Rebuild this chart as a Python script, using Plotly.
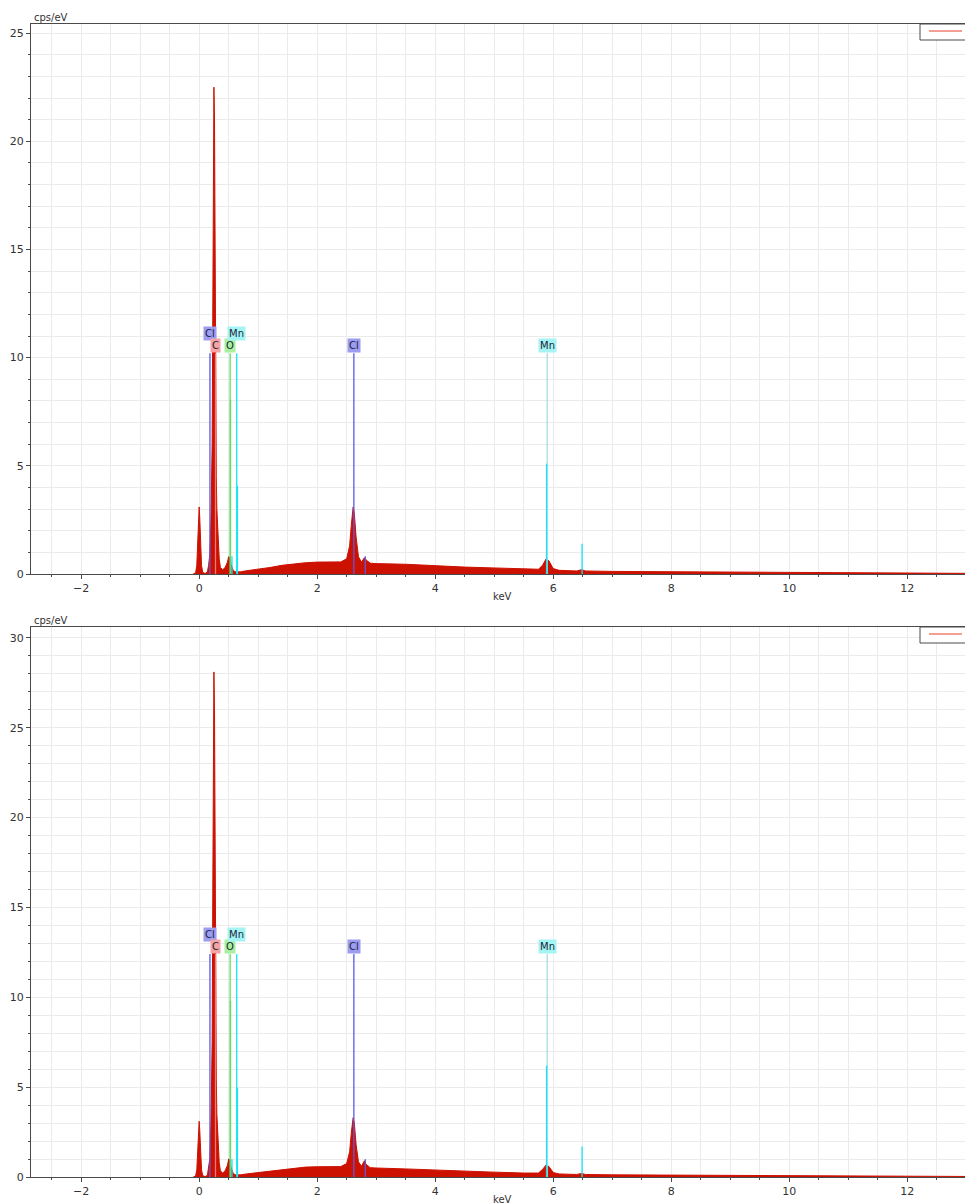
import plotly.graph_objects as go
from plotly.subplots import make_subplots

# ---- spectrum 1 (energy in keV, intensity in cps/eV) ----
energy_1 = [-0.10, -0.06, -0.04, -0.02, 0.00, 0.01, 0.02, 0.04, 0.06, 0.10,
            0.14, 0.16, 0.18, 0.20, 0.22, 0.23, 0.24, 0.25, 0.26, 0.27, 0.28, 0.29,
            0.30, 0.32, 0.34, 0.36, 0.40, 0.44, 0.48, 0.50, 0.52, 0.54, 0.58, 0.62,
            0.70, 0.80, 1.00, 1.20, 1.40, 1.60, 1.80, 2.00, 2.20, 2.40, 2.50, 2.55,
            2.58, 2.61, 2.63, 2.66, 2.70, 2.75, 2.80, 2.83, 2.90, 3.00, 3.50, 4.00,
            4.50, 5.00, 5.50, 5.75, 5.82, 5.88, 5.93, 6.00, 6.10, 6.40, 6.48, 6.55,
            7.00, 8.00, 9.00, 10.00, 11.00, 12.00, 13.00]
counts_1 = [0.0, 0.05, 0.4, 1.5, 3.1, 2.6, 1.6, 0.4, 0.08, 0.02,
            0.1, 0.4, 0.9, 2.5, 6.0, 12.0, 19.0, 22.5, 21.0, 14.0, 8.5, 4.5,
            3.0, 1.6, 0.7, 0.3, 0.2, 0.3, 0.55, 0.8, 0.75, 0.45, 0.15, 0.1,
            0.1, 0.15, 0.22, 0.3, 0.4, 0.47, 0.52, 0.55, 0.55, 0.56, 0.7, 1.3,
            2.3, 3.1, 2.8, 1.7, 0.8, 0.55, 0.75, 0.65, 0.5, 0.48, 0.45, 0.38,
            0.32, 0.28, 0.22, 0.22, 0.4, 0.7, 0.6, 0.25, 0.17, 0.14, 0.2, 0.14,
            0.12, 0.1, 0.08, 0.06, 0.05, 0.04, 0.03]

# ---- spectrum 2 ----
energy_2 = [-0.10, -0.06, -0.04, -0.02, 0.00, 0.01, 0.02, 0.04, 0.06, 0.10,
            0.14, 0.16, 0.18, 0.20, 0.22, 0.23, 0.24, 0.25, 0.26, 0.27, 0.28, 0.29,
            0.30, 0.32, 0.34, 0.36, 0.40, 0.44, 0.48, 0.50, 0.52, 0.54, 0.58, 0.62,
            0.70, 0.80, 1.00, 1.20, 1.40, 1.60, 1.80, 2.00, 2.20, 2.40, 2.50, 2.55,
            2.58, 2.61, 2.63, 2.66, 2.70, 2.75, 2.80, 2.83, 2.90, 3.00, 3.50, 4.00,
            4.50, 5.00, 5.50, 5.75, 5.82, 5.88, 5.93, 6.00, 6.10, 6.40, 6.48, 6.55,
            7.00, 8.00, 9.00, 10.00, 11.00, 12.00, 13.00]
counts_2 = [0.0, 0.05, 0.4, 1.5, 3.1, 2.6, 1.6, 0.4, 0.08, 0.02,
            0.1, 0.45, 1.0, 3.0, 7.5, 15.0, 23.5, 28.1, 26.0, 17.0, 10.0, 5.5,
            3.5, 1.8, 0.8, 0.35, 0.22, 0.35, 0.65, 1.0, 0.95, 0.55, 0.18, 0.12,
            0.12, 0.17, 0.25, 0.33, 0.42, 0.5, 0.55, 0.57, 0.57, 0.58, 0.75, 1.4,
            2.5, 3.3, 3.0, 1.8, 0.85, 0.6, 0.9, 0.7, 0.52, 0.5, 0.45, 0.38,
            0.32, 0.27, 0.22, 0.22, 0.42, 0.67, 0.58, 0.25, 0.17, 0.14, 0.2, 0.14,
            0.12, 0.1, 0.08, 0.06, 0.05, 0.04, 0.03]

# ---- KLM marker lines: element, energy (keV), relative height, label tier ----
marker_element = ["Cl", "Cl", "Cl", "C", "O", "O", "Mn", "Mn", "Mn", "Mn", "Mn", "Mn"]
marker_energy = [0.183, 2.622, 2.816, 0.277, 0.525, 0.531, 0.637, 0.649, 0.556,
                 5.899, 5.888, 6.490]
marker_rel = [1.0, 1.0, 0.08, 1.0, 1.0, 0.79, 1.0, 0.40, 0.08, 1.0, 0.50, 0.137]
marker_tier = [2, 1, 0, 1, 1, 0, 2, 0, 0, 1, 0, 0]   # 0 = no label
marker_full_height = [10.2, 12.4]                     # per panel, cps/eV

y_ranges = [[0, 25.42], [0, 30.6]]

line_colors = {"Cl": "#5a5ae8", "C": "#ee7a7a", "O": "#5fdc5f", "Mn": "#14e4f4"}
label_colors = {"Cl": "#9c9cf0", "C": "#f5a3a3", "O": "#a8f0a0", "Mn": "#a4f4f4"}
main_kalpha_mn = "#a9dde2"

SPEC_RED = "#cc1100"
GRID = "#ebebeb"
AXIS = "#4a4a4a"
TEXT = "#333333"
FONT = "DejaVu Sans"

fig = make_subplots(rows=2, cols=1, vertical_spacing=0.0)

W, H = 965, 1204
m_l, m_r, m_t, m_b = 31, 0, 24, 27
plot_h = H - m_t - m_b
top_lo = (H - m_b - 574) / plot_h
bot_hi = (H - m_b - 627) / plot_h

spectra = [(energy_1, counts_1), (energy_2, counts_2)]
for i, (ex, cy) in enumerate(spectra):
    row = i + 1
    fig.add_trace(go.Scatter(
        x=ex, y=cy, mode="lines", fill="tozeroy",
        line=dict(color=SPEC_RED, width=1), fillcolor=SPEC_RED,
        hoverinfo="skip", showlegend=False), row=row, col=1)

    full = marker_full_height[i]
    for el, e, rel, tier in zip(marker_element, marker_energy, marker_rel, marker_tier):
        col = line_colors[el]
        if el == "Mn" and abs(e - 5.899) < 1e-6:
            col = main_kalpha_mn
        fig.add_trace(go.Scatter(
            x=[e, e], y=[0, full * rel], mode="lines",
            line=dict(color=col, width=1.3),
            hoverinfo="skip", showlegend=False), row=row, col=1)
        if tier:
            fig.add_annotation(
                x=e, y=full, xref="x" if row == 1 else "x2",
                yref="y" if row == 1 else "y2",
                text=el, showarrow=False, yanchor="bottom",
                yshift=0 if tier == 1 else 12,
                bgcolor=label_colors[el], borderpad=1,
                font=dict(family=FONT, size=10, color="#1e1e3a"))

axis_common = dict(showline=True, linecolor=AXIS, linewidth=1,
                   gridcolor=GRID, gridwidth=1, zeroline=False,
                   ticks="outside", tickcolor=AXIS, ticklen=4,
                   tickfont=dict(family=FONT, size=11, color=TEXT))

for i in range(2):
    sfx = "" if i == 0 else "2"
    fig.update_layout(**{
        "xaxis" + sfx: dict(axis_common, range=[-2.85, 12.98], dtick=2, tick0=0,
                            mirror=True,
                            minor=dict(dtick=0.5, tick0=0, ticklen=2, tickcolor=AXIS,
                                       showgrid=True, gridcolor=GRID, ticks="outside"),
                            anchor="y" + sfx,
                            domain=[0, 1]),
        "yaxis" + sfx: dict(axis_common, range=y_ranges[i], dtick=5, tick0=0,
                            minor=dict(dtick=1, tick0=0, ticklen=2, tickcolor=AXIS,
                                       showgrid=True, gridcolor=GRID, ticks="outside"),
                            anchor="x" + sfx,
                            domain=[top_lo, 1] if i == 0 else [0, bot_hi]),
    })
    xd = "x" + sfx + " domain"
    yd = "y" + sfx + " domain"
    # axis captions
    fig.add_annotation(x=0, y=1, xref=xd, yref=yd, text="cps/eV", showarrow=False,
                       xanchor="left", yanchor="bottom", xshift=1, yshift=-1,
                       font=dict(family=FONT, size=10, color=TEXT))
    fig.add_annotation(x=0.505, y=0, xref=xd, yref=yd, text="keV", showarrow=False,
                       xanchor="center", yanchor="top", yshift=-15,
                       font=dict(family=FONT, size=10, color=TEXT))
    # legend box with the spectrum swatch
    dom_h = 550
    fig.add_shape(type="rect", xref=xd, yref=yd,
                  x0=(920 - 31) / 934, x1=1.02, y0=1 - 16 / dom_h, y1=1,
                  line=dict(color=AXIS, width=1), fillcolor="white", layer="above")
    fig.add_shape(type="line", xref=xd, yref=yd,
                  x0=(929 - 31) / 934, x1=(962 - 31) / 934,
                  y0=1 - 7 / dom_h, y1=1 - 7 / dom_h,
                  line=dict(color="#e8402a", width=1), layer="above")

fig.update_layout(width=W, height=H,
                  margin=dict(l=m_l, r=m_r, t=m_t, b=m_b),
                  paper_bgcolor="white", plot_bgcolor="white",
                  showlegend=False, font=dict(family=FONT, color=TEXT))

fig.write_html("out.html")
